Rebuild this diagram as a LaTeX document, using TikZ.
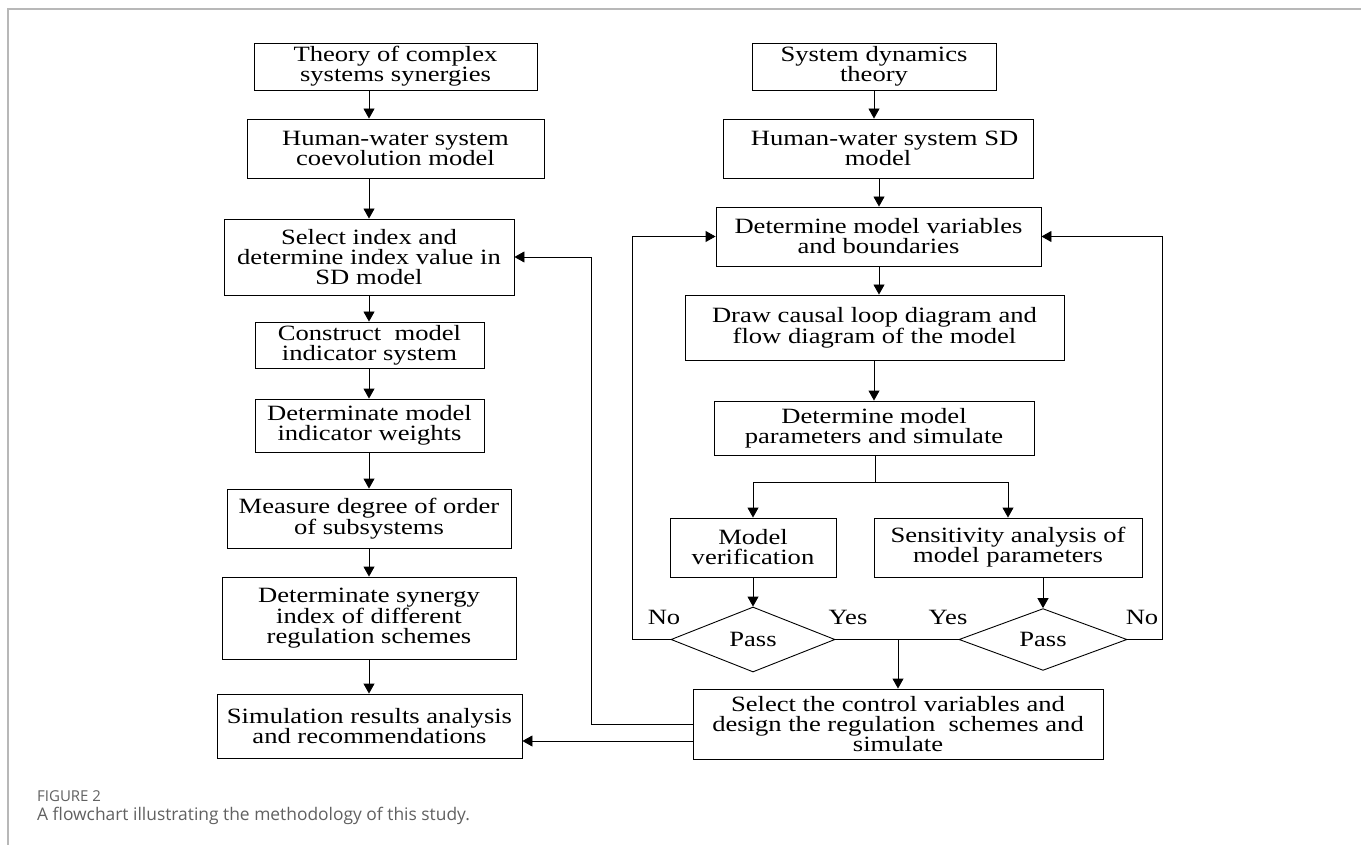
\documentclass[tikz,border=0pt]{standalone}
\usepackage{fontspec}
\setmainfont{Liberation Serif}[FakeStretch=1.22]
\newfontfamily\capfont{Open Sans}
\usetikzlibrary{arrows.meta,shapes.geometric}
\begin{document}
\begin{tikzpicture}[x=1pt,y=-1pt,
  txt/.style={font=\fontsize{21.8}{20}\selectfont},
  box/.style={draw=black, line width=0.9pt, rectangle, align=center, inner sep=0pt, txt},
  dia/.style={draw=black, line width=0.9pt, diamond, inner sep=0pt, txt},
  ln/.style={line width=0.9pt, draw=black},
  arr/.style={ln, -{Triangle[length=10pt,width=11pt]}},
  lbl/.style={inner sep=0pt, txt},
  frame/.style={draw=black!28, line width=1.4pt}]
\useasboundingbox (0,0) rectangle (1361,845);
\fill[white] (0,0) rectangle (1361,845);
\draw[frame] (8,845) -- (8,9) -- (1361,9);

% left column
\node[box, minimum width=283pt, minimum height=47pt] (t1) at (395.5,66.5) {Theory of complex\\systems synergies};
\node[box, minimum width=297pt, minimum height=59pt] (t2) at (395.5,148.5) {Human-water system\\coevolution model};
\node[box, minimum width=290pt, minimum height=76pt] (t3) at (369,257) {Select index and\\determine index value in\\SD model};
\node[box, minimum width=229pt, minimum height=46pt] (t4) at (369.5,345) {Construct\ \ model\\indicator system};
\node[box, minimum width=229pt, minimum height=53pt] (t5) at (369.5,425.5) {Determinate model\\indicator weights};
\node[box, minimum width=284pt, minimum height=59pt] (t6) at (369,518.5) {Measure degree of order\\of subsystems};
\node[box, minimum width=294pt, minimum height=82pt] (t7) at (369,618) {Determinate synergy\\index of different\\regulation schemes};
\node[box, minimum width=305pt, minimum height=64pt] (t8) at (369.5,726) {Simulation results analysis\\and recommendations};

% right column
\node[box, minimum width=244pt, minimum height=47pt] (r1) at (874,66.5) {System dynamics\\theory};
\node[box, minimum width=310pt, minimum height=59pt] (r2) at (878,148.5) {\ \ Human-water system SD\\model};
\node[box, minimum width=325pt, minimum height=59pt] (r3) at (878.5,236.5) {Determine model variables\\and boundaries};
\node[box, minimum width=379pt, minimum height=65pt] (r4) at (874.5,327.5) {Draw causal loop diagram and\\flow diagram of the model};
\node[box, minimum width=320pt, minimum height=54pt] (r5) at (874,428) {Determine model\\parameters and simulate};
\node[box, minimum width=166pt, minimum height=59pt] (r6) at (753,547.5) {Model\\verification};
\node[box, minimum width=268pt, minimum height=59pt] (r7) at (1008,547.5) {Sensitivity analysis of\\model parameters};
\node[dia, minimum width=164pt, minimum height=65pt] (d1) at (753,639.5) {Pass};
\node[dia, minimum width=168pt, minimum height=60pt] (d2) at (1043,639.5) {Pass};
\node[box, minimum width=410pt, minimum height=70pt] (r8) at (898,724) {Select the control variables and\\design the regulation\ \ schemes and\\simulate};

\node[lbl] (no1) at (664,617) {No};
\node[lbl] (yes1) at (848,617) {Yes};
\node[lbl] (yes2) at (948,617) {Yes};
\node[lbl] (no2) at (1142,617) {No};

% helper coordinates
\coordinate (lx) at (369,0);
\coordinate (rxa) at (874,0);
\coordinate (rxb) at (879,0);
\coordinate (sp) at (875,482);
\coordinate (yj) at (898,0);
\coordinate (nl) at (632,0);
\coordinate (nr) at (1162,0);
\coordinate (fb) at (591,0);

% left connectors
\draw[arr] (t1.south -| lx) -- (t2.north -| lx);
\draw[arr] (t2.south -| lx) -- (t3.north -| lx);
\draw[arr] (t3.south -| lx) -- (t4.north -| lx);
\draw[arr] (t4.south -| lx) -- (t5.north -| lx);
\draw[arr] (t5.south -| lx) -- (t6.north -| lx);
\draw[arr] (t6.south -| lx) -- (t7.north -| lx);
\draw[arr] (t7.south -| lx) -- (t8.north -| lx);

% right connectors
\draw[arr] (r1.south -| rxa) -- (r2.north -| rxa);
\draw[arr] (r2.south -| rxb) -- (r3.north -| rxb);
\draw[arr] (r3.south -| rxb) -- (r4.north -| rxb);
\draw[arr] (r4.south -| rxa) -- (r5.north -| rxa);
\draw[ln] (r5.south -| sp) -- (sp);
\draw[arr] (sp) -| (r6.north);
\draw[arr] (sp) -| (r7.north);
\draw[arr] (r6.south) -- (d1.north);
\draw[arr] (r7.south -| d2.north) -- (d2.north);
\draw[ln] (d1.east) -- (d2.west);
\draw[arr] (d1.east -| yj) -- (r8.north -| yj);
\draw[arr] (d1.west) -- (d1.west -| nl) |- (r3.west);
\draw[arr] (d2.east) -- (d2.east -| nr) |- (r3.east);
\draw[arr] (r8.west) -- (r8.west -| fb) |- (t3.east);
\draw[arr] ([yshift=-17pt]r8.west) -- ([yshift=-17pt]r8.west -| t8.east);

% caption
\node[anchor=base west, inner sep=0pt, text=black!62, font=\capfont\fontsize{15}{17}\selectfont] (fig) at (37,801) {FIGURE 2};
\node[anchor=base west, inner sep=0pt, text=black!62, font=\capfont\fontsize{17.4}{20}\selectfont] (cap) at (37,820) {A flowchart illustrating the methodology of this study.};
\end{tikzpicture}
\end{document}
